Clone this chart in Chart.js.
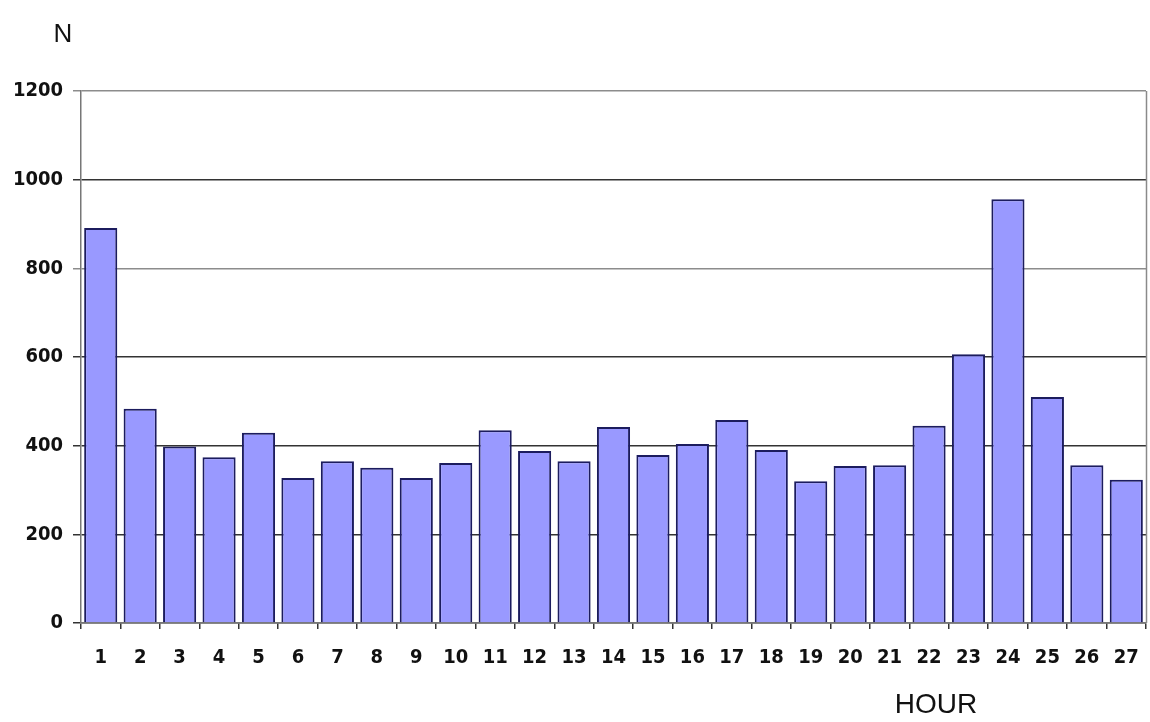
<!DOCTYPE html>
<html><head><meta charset="utf-8">
<script src="https://cdn.jsdelivr.net/npm/chart.js@4"></script>
<style>html,body{margin:0;padding:0;background:#fff}#wrap{width:1150px;height:722px}</style>
</head><body><div id="wrap"><canvas id="c" width="1150" height="722"></canvas></div>
<script>
const hours = ['1','2','3','4','5','6','7','8','9','10','11','12','13','14','15','16','17','18','19','20','21','22','23','24','25','26','27'];
const counts = [891,483,398,374,429,327,365,350,327,361,435,388,365,442,379,404,458,390,320,354,356,445,606,956,510,356,323];
const yTicks = [0,200,400,600,800,1000,1200];
const yAxisLabel = 'N';
const xAxisLabel = 'HOUR';

const labelFont = {family:'"DejaVu Sans Condensed","Liberation Sans",Arial,sans-serif', size:20, weight:'bold'};

const extras = {
  id:'extras',
  afterDraw(chart){
    const {ctx, chartArea:a} = chart;
    ctx.save();
    ctx.strokeStyle = '#8a8a8a'; ctx.lineWidth = 1.5;
    ctx.beginPath(); ctx.moveTo(a.right+0.5, a.top); ctx.lineTo(a.right+0.5, a.bottom); ctx.stroke();
    ctx.fillStyle = '#111';
    ctx.textBaseline = 'middle';
    ctx.textAlign = 'center';
    ctx.font = '26px "Liberation Sans", Arial, sans-serif';
    ctx.fillText(yAxisLabel, 63, 35);
    ctx.font = '28px "Liberation Sans", Arial, sans-serif';
    ctx.fillText(xAxisLabel, 936, 705);
    ctx.restore();
  }
};

new Chart(document.getElementById('c'), {
  type:'bar',
  data:{labels:hours, datasets:[{data:counts, backgroundColor:'#9999ff', borderColor:'#1c1c5e', borderWidth:2, barPercentage:0.84, categoryPercentage:1.0}]},
  options:{
    responsive:false, animation:false, devicePixelRatio:1,
    layout:{padding:{top:91, right:4, left:0, bottom:0}},
    plugins:{legend:{display:false}, tooltip:{enabled:false}},
    scales:{
      x:{
        offset:true,
        grid:{display:true, offset:true, drawOnChartArea:false, drawTicks:true, tickLength:6, color:'#333', lineWidth:1.5},
        border:{display:true, color:'#777', width:1.5},
        ticks:{color:'#111', font:labelFont, padding:17, maxRotation:0, autoSkip:false},
        afterFit(s){ s.height = 99; s.paddingLeft = 0; s.paddingRight = 0; }
      },
      y:{
        min:0, max:1200,
        afterBuildTicks(s){ s.ticks = yTicks.map(v=>({value:v})); },
        grid:{color:(c)=> (c.tick && (c.tick.value===1200 || c.tick.value===800)) ? '#8c8c8c' : '#333', lineWidth:1.5, tickLength:8, drawTicks:true},
        border:{display:true, color:'#777', width:1.5},
        ticks:{color:'#111', font:labelFont, padding:10, callback:(v)=>String(v)},
        afterFit(s){ s.width = 81; s.paddingTop = 0; s.paddingBottom = 0; }
      }
    }
  },
  plugins:[extras]
});
</script></body></html>
